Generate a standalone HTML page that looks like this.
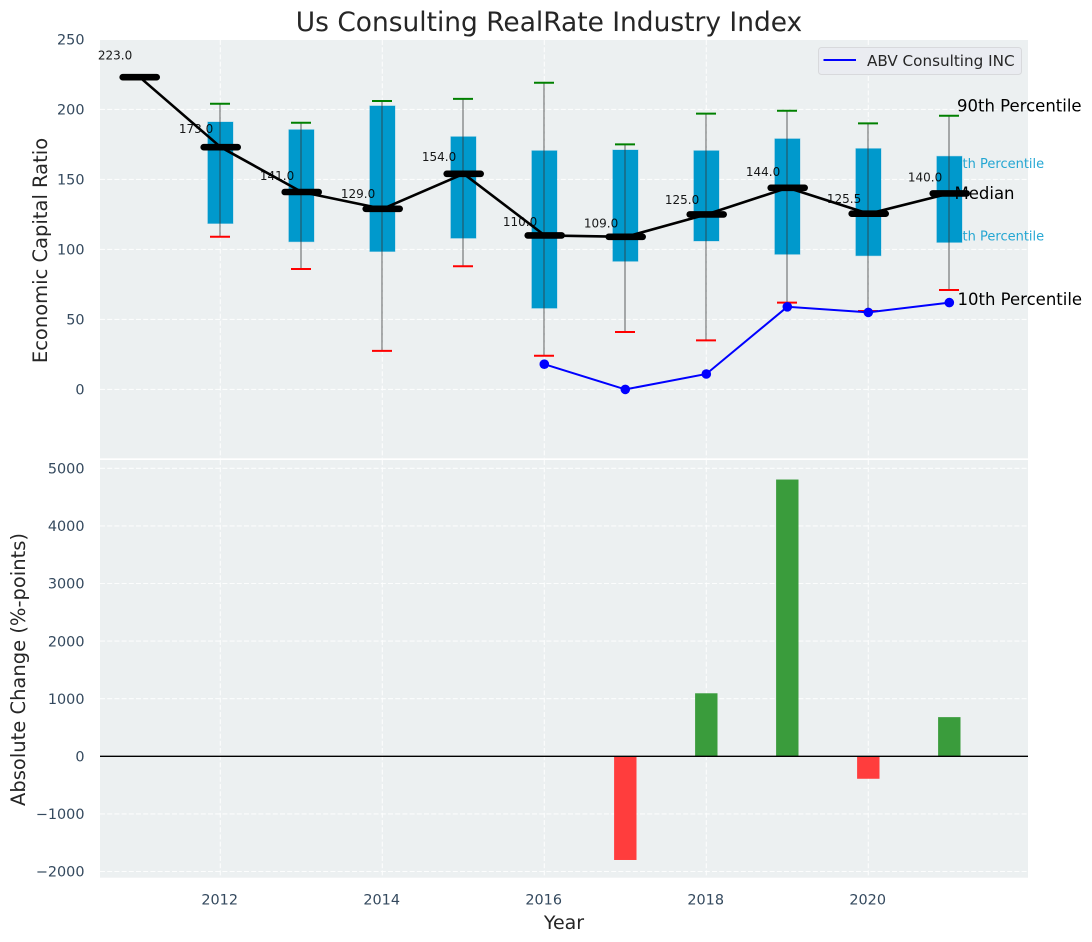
<!DOCTYPE html>
<html lang="en">
<head>
<meta charset="utf-8">
<title>Us Consulting RealRate Industry Index</title>
<style>
html,body{margin:0;padding:0;background:#fff;}
body{width:1092px;height:942px;overflow:hidden;}
svg{display:block;}
text{font-family:"DejaVu Sans","Liberation Sans",sans-serif;}
</style>
</head>
<body>
<svg id="chart" xmlns="http://www.w3.org/2000/svg" width="1092" height="942" viewBox="0 0 1092 942"></svg>
<script>
const years = [2011, 2012, 2013, 2014, 2015, 2016, 2017, 2018, 2019, 2020, 2021];
const medians = [223, 173, 141, 129, 154, 110, 109, 125, 144, 125.5, 140];
const p10 = [null, 109, 86, 27.5, 88, 24, 41, 35, 62, 56, 71];
const p25 = [null, 118.5, 105.5, 98.5, 108, 58, 91.5, 106, 96.5, 95.5, 105];
const p75 = [null, 191, 185.5, 202.5, 180.5, 170.5, 171, 170.5, 179, 172, 166.5];
const p90 = [null, 204, 190.5, 206, 207.5, 219, 175, 197, 199, 190, 195.5];
const companyYears = [2016, 2017, 2018, 2019, 2020, 2021];
const companyValues = [18, 0, 11, 59, 55, 62];
const changeYears = [2017, 2018, 2019, 2020, 2021];
const changeValues = [-1800, 1094, 4805, -390, 680];
const xTicks = [2012, 2014, 2016, 2018, 2020];
const topTicks = [0, 50, 100, 150, 200, 250];
const bottomTicks = [-2000, -1000, 0, 1000, 2000, 3000, 4000, 5000];

const svg = document.getElementById('chart');
const NS = 'http://www.w3.org/2000/svg';
const L = 100, R = 1028, T1 = 40, B1 = 458.3, T2 = 460, B2 = 877.7;
const xS = v => 220.3 + (v - 2012) * 81;
const yTop = v => 389.4 - v * 1.4;
const yBot = v => 756.3 - v * 0.0576;
const fmt = v => (v < 0 ? '\u2212' + Math.abs(v) : String(v));

function el(tag, attrs, parent) {
  const e = document.createElementNS(NS, tag);
  for (const k in attrs) e.setAttribute(k, attrs[k]);
  (parent || svg).appendChild(e);
  return e;
}
function txt(str, attrs, parent) {
  const e = el('text', attrs, parent);
  e.textContent = str;
  return e;
}
const tickColor = '#34495e';

/* panels */
const panelTop = el('rect', {x: L, y: T1, width: R - L, height: B1 - T1, fill: '#ecf0f1'});


const panelBot = el('rect', {x: L, y: T2, width: R - L, height: B2 - T2, fill: '#ecf0f1'});



/* grid */
const gridStyle = {stroke: '#fff', 'stroke-width': 1.1, 'stroke-dasharray': '5 2.2', 'stroke-opacity': 0.85, fill: 'none'};
xTicks.forEach(t => {
  const a = el('line', Object.assign({x1: xS(t), x2: xS(t), y1: T1, y2: B1}, gridStyle));
  
  
  const b = el('line', Object.assign({x1: xS(t), x2: xS(t), y1: T2, y2: B2}, gridStyle));
  
  
  const lab = txt(String(t), {x: xS(t) - 0.6, y: 904.5, 'text-anchor': 'middle', 'font-size': 14.4, fill: tickColor});
  
  
});
topTicks.forEach(t => {
  const a = el('line', Object.assign({x1: L, x2: R, y1: yTop(t), y2: yTop(t)}, gridStyle));
  
  
  const lab = txt(fmt(t), {x: 84.5, y: yTop(t) + 5.2, 'text-anchor': 'end', 'font-size': 14.4, fill: tickColor});
  
  
});
bottomTicks.forEach(t => {
  const a = el('line', Object.assign({x1: L, x2: R, y1: yBot(t), y2: yBot(t)}, gridStyle));
  
  
  const lab = txt(fmt(t), {x: 84.5, y: yBot(t) + 5.2, 'text-anchor': 'end', 'font-size': 14.4, fill: tickColor});
  
  
});

/* percentile labels hidden behind last box */
const last = years.length - 1;
const lab75 = txt('75th Percentile', {x: 946, y: yTop(p75[last]) + 11.8, 'font-size': 13, fill: '#0099cc', 'fill-opacity': 0.85});


const lab25 = txt('25th Percentile', {x: 946, y: yTop(p25[last]) - 2, 'font-size': 13, fill: '#0099cc', 'fill-opacity': 0.85});



/* boxes and whiskers */
years.forEach((yr, i) => {
  if (p75[i] === null) return;
  const cx = xS(yr);
  const box = el('rect', {x: cx - 12.5, y: yTop(p75[i]), width: 25.2, height: yTop(p25[i]) - yTop(p75[i]), fill: '#0099cc', stroke: '#0099cc', 'stroke-opacity': 0.3, 'stroke-width': 1});
  
  
  const wh = el('line', {x1: cx - 0.3, x2: cx - 0.3, y1: yTop(p90[i]), y2: yTop(p10[i]), stroke: '#333', 'stroke-opacity': 0.55, 'stroke-width': 1.4});
  
  
  const capHi = el('line', {x1: cx - 10.3, x2: cx + 9.7, y1: yTop(p90[i]), y2: yTop(p90[i]), stroke: '#008000', 'stroke-width': 2});
  
  
  const capLo = el('line', {x1: cx - 10.3, x2: cx + 9.7, y1: yTop(p10[i]), y2: yTop(p10[i]), stroke: '#ff0000', 'stroke-width': 2});
  
  
});

/* median trend line */
const medLine = el('polyline', {points: years.map((yr, i) => (xS(yr) + 0.4) + ',' + yTop(medians[i])).join(' '), fill: 'none', stroke: '#000', 'stroke-width': 2.6, 'stroke-linejoin': 'round'});



/* median bars and value labels */
years.forEach((yr, i) => {
  const cx = xS(yr), cy = yTop(medians[i]);
  const m = el('line', {x1: cx - 16.6, x2: cx + 17.4, y1: cy, y2: cy, stroke: '#000', 'stroke-width': 6.6, 'stroke-linecap': 'round'});
  
  
  const v = txt(medians[i].toFixed(1), {x: cx - 24.2, y: cy - (medians[i] * 0.075 + 1.2), 'text-anchor': 'middle', 'font-size': 12, fill: '#000', 'fill-opacity': 0.9});
  
  
});

/* company series */
const compLine = el('polyline', {points: companyYears.map((yr, i) => xS(yr) + ',' + yTop(companyValues[i])).join(' '), fill: 'none', stroke: '#0000ff', 'stroke-width': 2});


companyYears.forEach((yr, i) => {
  const c = el('circle', {cx: xS(yr), cy: yTop(companyValues[i]), r: 4.8, fill: '#0000ff'});
  
  
});

/* annotations */
const lab90 = txt('90th Percentile', {x: 957, y: yTop(p90[last]) - 4, 'font-size': 16.5, fill: '#000'});


const labMed = txt('Median', {x: 954.5, y: yTop(medians[last]) + 5.5, 'font-size': 16.5, fill: '#000'});


const lab10 = txt('10th Percentile', {x: 957.5, y: yTop(p10[last]) + 15, 'font-size': 16.5, fill: '#000'});



/* change bars */
changeYears.forEach((yr, i) => {
  const v = changeValues[i];
  const y0 = yBot(Math.max(v, 0)), y1 = yBot(Math.min(v, 0));
  const color = v >= 0 ? '#3a9c3c' : '#ff3d3d';
  const b = el('rect', {x: xS(yr) - 11.2, y: y0, width: 22.4, height: y1 - y0, fill: color});
  
  
});
const zero = el('line', {x1: L, x2: R, y1: yBot(0), y2: yBot(0), stroke: '#000', 'stroke-width': 1.3});



/* legend */
const legendBox = el('rect', {x: 818.5, y: 47.5, width: 203, height: 27, rx: 3, ry: 3, fill: '#eaecf1', stroke: '#d8d9dc', 'stroke-width': 1});


const legendLine = el('line', {x1: 823.5, x2: 856, y1: 60, y2: 60, stroke: '#0000ff', 'stroke-width': 2});


const legendText = txt('ABV Consulting INC', {x: 867, y: 66, 'font-size': 15.2, fill: '#262626'});



/* titles */
const title = txt('Us Consulting RealRate Industry Index', {x: 549, y: 31, 'text-anchor': 'middle', 'font-size': 26.45, fill: '#262626'});


const xTitle = txt('Year', {x: 564, y: 929, 'text-anchor': 'middle', 'font-size': 19, fill: '#262626'});


const yTitleTop = txt('Economic Capital Ratio', {x: 0, y: 0, 'text-anchor': 'middle', 'font-size': 19.5, fill: '#262626', transform: 'translate(47,250.5) rotate(-90)'});


const yTitleBot = txt('Absolute Change (%-points)', {x: 0, y: 0, 'text-anchor': 'middle', 'font-size': 19.5, fill: '#262626', transform: 'translate(25,669.5) rotate(-90)'});


</script>
</body>
</html>
